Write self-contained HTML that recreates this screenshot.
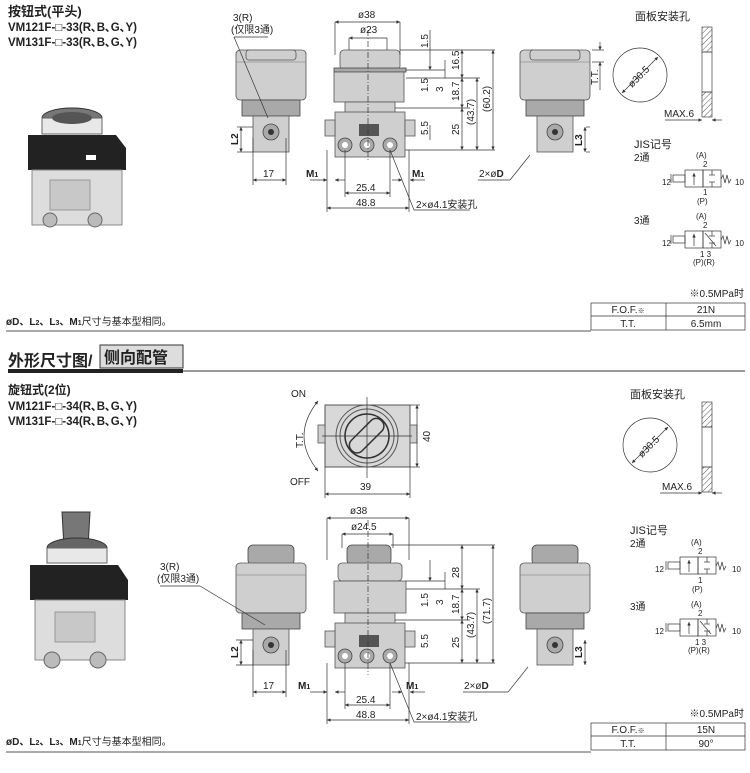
<!DOCTYPE html>
<html><head><meta charset="utf-8"><style>
body{margin:0;background:#fff;width:750px;height:773px;overflow:hidden}
svg{display:block}
text{font-family:"Liberation Sans","Noto Sans CJK SC",sans-serif;fill:#222}
.t{font-size:10px}
.b{font-weight:bold}
.d{stroke:#333;stroke-width:0.7;fill:none}
.g{fill:#cfcfcf;stroke:#555;stroke-width:0.8}
.g2{fill:#a9a9a9;stroke:#444;stroke-width:0.8}
</style></head><body>
<svg width="750" height="773" viewBox="0 0 750 773" xmlns="http://www.w3.org/2000/svg">
<defs>
<pattern id="h" width="4" height="4" patternUnits="userSpaceOnUse" patternTransform="rotate(45)"><line x1="0" y1="0" x2="0" y2="4" stroke="#555" stroke-width="1"/></pattern>
<marker id="a" viewBox="0 0 6 6" refX="6" refY="3" markerWidth="5" markerHeight="5" orient="auto-start-reverse"><path d="M0,0L6,3L0,6z" fill="#333"/></marker>
<g id="side">
<rect class="g" x="0" y="18" width="70" height="50" rx="4"/>
<line x1="0" y1="30" x2="70" y2="30" stroke="#777" stroke-width="0.6"/>
<rect class="g2" x="6" y="68" width="58" height="16"/>
<rect class="g" x="17" y="84" width="36" height="36"/>
<circle cx="35" cy="100" r="8" class="g2"/><circle cx="35" cy="100" r="3" fill="#333"/>
</g>
<g id="body">
<rect class="g" x="0" y="0" width="70" height="45"/>
<rect class="g" x="-10" y="8" width="10" height="16"/><rect class="g" x="70" y="8" width="10" height="16"/>
<rect x="24" y="12" width="20" height="12" fill="#555"/>
<circle cx="10" cy="33" r="7" class="g2"/><circle cx="32" cy="33" r="7" class="g2"/><circle cx="55" cy="33" r="7" class="g2"/>
<circle cx="10" cy="33" r="3" fill="#fff"/><circle cx="32" cy="33" r="3" fill="#fff"/><circle cx="55" cy="33" r="3" fill="#fff"/>
</g>
<g id="jis2">
<rect x="0" y="0" width="18" height="17" class="d"/><rect x="18" y="0" width="18" height="17" class="d"/>
<line x1="9" y1="15" x2="9" y2="3" class="d" marker-end="url(#a)"/>
<line x1="27" y1="0" x2="27" y2="5" class="d"/><line x1="24" y1="5" x2="30" y2="5" class="d"/>
<line x1="27" y1="17" x2="27" y2="12" class="d"/><line x1="24" y1="12" x2="30" y2="12" class="d"/>
<rect x="-12" y="5" width="12" height="7" class="d"/><line x1="-14" y1="4" x2="-14" y2="13" class="d"/>
<path d="M36,9 l2,-4 l2,8 l2,-8 l2,8 l2,-4" class="d"/>
</g>
</defs>

<!-- ===== TOP SECTION ===== -->
<text x="8" y="16" font-size="13" class="b">按钮式(平头)</text>
<text x="8" y="31" font-size="11.5" class="b">VM121F-□-33(R､B､G､Y)</text>
<text x="8" y="46" font-size="11.5" class="b">VM131F-□-33(R､B､G､Y)</text>

<!-- photo top -->
<ellipse cx="72" cy="118" rx="30" ry="10" fill="#777" stroke="#333"/>
<rect x="42" y="118" width="60" height="16" fill="#e8e8e8" stroke="#666"/>
<ellipse cx="72" cy="118" rx="20" ry="6" fill="#555"/>
<path d="M28 135 L116 135 L126 148 L126 170 L28 170 Z" fill="#222"/>
<rect x="86" y="155" width="10" height="5" fill="#fff"/>
<rect x="32" y="170" width="90" height="55" fill="#ddd" stroke="#888"/>
<rect x="50" y="180" width="40" height="30" fill="#c8c8c8" stroke="#999"/>
<circle cx="50" cy="220" r="7" fill="#bbb" stroke="#666"/><circle cx="95" cy="220" r="7" fill="#bbb" stroke="#666"/>

<!-- left side view -->
<use href="#side" x="236" y="32"/>
<rect class="g" x="246" y="50" width="50" height="10" rx="3"/>
<text x="233" y="21" class="t">3(R)</text>
<text x="231" y="33" class="t">(仅限3通)</text>
<line x1="234" y1="37" x2="268" y2="37" class="d"/><line x1="234" y1="37" x2="268" y2="118" class="d"/>
<line x1="253" y1="127" x2="237" y2="127" class="d"/><line x1="253" y1="152" x2="237" y2="152" class="d"/>
<line x1="241" y1="127" x2="241" y2="152" class="d" marker-start="url(#a)" marker-end="url(#a)"/>
<text x="0" y="0" class="t b" transform="translate(238,145) rotate(-90)">L2</text>
<line x1="253" y1="138" x2="253" y2="185" class="d"/><line x1="286" y1="138" x2="286" y2="185" class="d"/>
<line x1="253" y1="180" x2="286" y2="180" class="d" marker-start="url(#a)" marker-end="url(#a)"/>
<text x="263" y="177" class="t">17</text>

<!-- front view -->
<rect class="g" x="340" y="50" width="60" height="20" rx="4"/>
<rect class="g2" x="334" y="68" width="72" height="4"/>
<rect class="g" x="334" y="72" width="70" height="30"/>
<rect class="g" x="345" y="102" width="50" height="12"/>
<use href="#body" x="335" y="112"/>
<line x1="368" y1="30" x2="368" y2="162" class="d" stroke-dasharray="6,2,1,2"/>
<line x1="335" y1="22" x2="335" y2="55" class="d"/><line x1="400" y1="22" x2="400" y2="55" class="d"/>
<line x1="335" y1="22" x2="400" y2="22" class="d" marker-start="url(#a)" marker-end="url(#a)"/>
<text x="358" y="18" class="t">ø38</text>
<line x1="349" y1="38" x2="349" y2="50" class="d"/><line x1="387" y1="38" x2="387" y2="50" class="d"/>
<line x1="349" y1="38" x2="387" y2="38" class="d" marker-start="url(#a)"/>
<text x="360" y="33" class="t">ø23</text>
<g class="d">
<line x1="400" y1="50" x2="495" y2="50"/><line x1="406" y1="70" x2="445" y2="70"/><line x1="406" y1="78" x2="480" y2="78"/>
<line x1="395" y1="108" x2="470" y2="108"/><line x1="405" y1="150" x2="495" y2="150"/>
<line x1="430" y1="30" x2="430" y2="70" marker-end="url(#a)"/>
<line x1="445" y1="60" x2="445" y2="78"/>
<line x1="462" y1="50" x2="462" y2="78" marker-start="url(#a)" marker-end="url(#a)"/>
<line x1="462" y1="78" x2="462" y2="108" marker-start="url(#a)" marker-end="url(#a)"/>
<line x1="462" y1="108" x2="462" y2="150" marker-start="url(#a)" marker-end="url(#a)"/>
<line x1="477" y1="78" x2="477" y2="150" marker-start="url(#a)" marker-end="url(#a)"/>
<line x1="493" y1="50" x2="493" y2="150" marker-start="url(#a)" marker-end="url(#a)"/>
<line x1="430" y1="125" x2="430" y2="140"/>
</g>
<g class="t">
<text transform="translate(428,48) rotate(-90)">1.5</text>
<text transform="translate(428,92) rotate(-90)">1.5</text>
<text transform="translate(443,92) rotate(-90)">3</text>
<text transform="translate(459,70) rotate(-90)">16.5</text>
<text transform="translate(459,101) rotate(-90)">18.7</text>
<text transform="translate(459,135) rotate(-90)">25</text>
<text transform="translate(428,135) rotate(-90)">5.5</text>
<text transform="translate(474,125) rotate(-90)">(43.7)</text>
<text transform="translate(490,112) rotate(-90)">(60.2)</text>
</g>
<line x1="327" y1="150" x2="327" y2="212" class="d"/><line x1="409" y1="150" x2="409" y2="212" class="d"/>
<line x1="345" y1="150" x2="345" y2="197" class="d"/><line x1="390" y1="150" x2="390" y2="197" class="d"/>
<line x1="327" y1="208" x2="409" y2="208" class="d" marker-start="url(#a)" marker-end="url(#a)"/>
<line x1="345" y1="193" x2="390" y2="193" class="d" marker-start="url(#a)" marker-end="url(#a)"/>
<line x1="310" y1="180" x2="327" y2="180" class="d" marker-end="url(#a)"/><line x1="345" y1="180" x2="335" y2="180" class="d" marker-end="url(#a)"/>
<line x1="392" y1="180" x2="402" y2="180" class="d" marker-end="url(#a)"/><line x1="425" y1="180" x2="410" y2="180" class="d" marker-end="url(#a)"/>
<text x="356" y="191" class="t">25.4</text><text x="356" y="206" class="t">48.8</text>
<text x="306" y="177" class="t b">M<tspan font-size="7">1</tspan></text>
<text x="412" y="177" class="t b">M<tspan font-size="7">1</tspan></text>
<line x1="390" y1="150" x2="414" y2="210" class="d"/><line x1="414" y1="210" x2="470" y2="210" class="d"/>
<text x="416" y="208" class="t">2×ø4.1安装孔</text>
<line x1="478" y1="180" x2="510" y2="180" class="d"/><line x1="510" y1="180" x2="530" y2="155" class="d"/>
<text x="479" y="177" class="t">2×ø<tspan class="b">D</tspan></text>

<!-- right side view -->
<use href="#side" x="520" y="32"/>
<rect class="g" x="530" y="50" width="50" height="10" rx="3"/>
<g class="d"><line x1="592" y1="50" x2="604" y2="50"/><line x1="592" y1="62" x2="604" y2="62"/>
<line x1="600" y1="42" x2="600" y2="50" marker-end="url(#a)"/><line x1="600" y1="62" x2="600" y2="90" marker-start="url(#a)"/>
<line x1="586" y1="127" x2="590" y2="127"/><line x1="586" y1="152" x2="590" y2="152"/>
<line x1="585" y1="127" x2="585" y2="152" marker-start="url(#a)" marker-end="url(#a)"/></g>
<text transform="translate(598,85) rotate(-90)" class="t">T.T.</text>
<text transform="translate(582,146) rotate(-90)" class="t b">L3</text>

<!-- panel hole -->
<text x="635" y="20" font-size="11">面板安装孔</text>
<circle cx="640" cy="75" r="27" class="d"/>
<line x1="622" y1="93" x2="658" y2="57" class="d" marker-start="url(#a)" marker-end="url(#a)"/>
<text transform="translate(632,88) rotate(-45)" class="t">ø30.5</text>
<rect x="702" y="27" width="10" height="25" fill="url(#h)" stroke="#444" stroke-width="0.7"/>
<rect x="702" y="52" width="10" height="40" fill="none" stroke="#444" stroke-width="0.7"/>
<rect x="702" y="92" width="10" height="25" fill="url(#h)" stroke="#444" stroke-width="0.7"/>
<line x1="665" y1="120" x2="702" y2="120" class="d" marker-end="url(#a)"/><line x1="722" y1="120" x2="712" y2="120" class="d" marker-end="url(#a)"/>
<text x="664" y="117" class="t">MAX.6</text>
<text x="634" y="148" font-size="11">JIS记号</text>
<text x="634" y="161" class="t">2通</text>
<text x="696" y="158" font-size="8">(A)</text><text x="703" y="167" font-size="8">2</text>
<use href="#jis2" x="685" y="170"/>
<text x="662" y="185" font-size="8">12</text><text x="735" y="185" font-size="8">10</text>
<text x="703" y="195" font-size="8">1</text><text x="697" y="204" font-size="8">(P)</text>
<text x="634" y="224" class="t">3通</text>
<text x="696" y="219" font-size="8">(A)</text><text x="703" y="228" font-size="8">2</text>
<use href="#jis2" x="685" y="231"/>
<line x1="705" y1="233" x2="716" y2="246" class="d"/>
<text x="662" y="246" font-size="8">12</text><text x="735" y="246" font-size="8">10</text>
<text x="700" y="257" font-size="8">1 3</text><text x="693" y="265" font-size="8">(P)(R)</text>

<!-- table top -->
<text x="744" y="297" class="t" text-anchor="end">※0.5MPa时</text>
<rect x="591" y="303" width="154" height="27" class="d"/><line x1="591" y1="316" x2="745" y2="316" class="d"/><line x1="666" y1="303" x2="666" y2="330" class="d"/>
<text x="628" y="313" class="t" text-anchor="middle">F.O.F.<tspan font-size="7">※</tspan></text><text x="706" y="313" class="t" text-anchor="middle">21N</text>
<text x="628" y="327" class="t" text-anchor="middle">T.T.</text><text x="706" y="327" class="t" text-anchor="middle">6.5mm</text>
<text x="6" y="325" class="t"><tspan class="b">øD、L<tspan font-size="7">2</tspan>、L<tspan font-size="7">3</tspan>、M<tspan font-size="7">1</tspan></tspan>尺寸与基本型相同。</text>
<line x1="6" y1="331" x2="591" y2="331" stroke="#555" stroke-width="1"/>

<!-- section header -->
<text x="8" y="366" font-size="16" class="b">外形尺寸图/</text>
<rect x="100" y="345" width="83" height="23" fill="#ddd" stroke="#333" stroke-width="1"/>
<text x="104" y="363" font-size="16" class="b">侧向配管</text>
<rect x="8" y="369" width="175" height="4" fill="#222"/>
<rect x="183" y="370" width="562" height="2" fill="#999"/>

<!-- ===== BOTTOM SECTION ===== -->
<text x="8" y="394" font-size="12" class="b">旋钮式(2位)</text>
<text x="8" y="410" font-size="11.5" class="b">VM121F-□-34(R､B､G､Y)</text>
<text x="8" y="425" font-size="11.5" class="b">VM131F-□-34(R､B､G､Y)</text>

<!-- top view knob -->
<rect x="325" y="405" width="85" height="62" fill="#d8d8d8" stroke="#555"/>
<rect x="318" y="425" width="7" height="18" class="g"/><rect x="410" y="425" width="7" height="18" class="g"/>
<circle cx="367" cy="436" r="31" fill="none" stroke="#555"/><circle cx="367" cy="436" r="27" fill="none" stroke="#555"/><circle cx="367" cy="436" r="22" fill="none" stroke="#333" stroke-width="1.5"/>
<rect x="346" y="428" width="42" height="15" rx="7" transform="rotate(-45 367 436)" fill="none" stroke="#333" stroke-width="1.5"/>
<line x1="367" y1="397" x2="367" y2="478" class="d"/><line x1="322" y1="436" x2="412" y2="436" class="d"/>
<path d="M318 401 Q290 436 318 471" class="d" marker-start="url(#a)" marker-end="url(#a)"/>
<text x="291" y="397" class="t">ON</text><text x="290" y="485" class="t">OFF</text>
<text transform="translate(303,448) rotate(-90)" class="t">T.T.</text>
<line x1="410" y1="405" x2="420" y2="405" class="d"/><line x1="410" y1="467" x2="420" y2="467" class="d"/>
<line x1="417" y1="405" x2="417" y2="467" class="d" marker-start="url(#a)" marker-end="url(#a)"/>
<text transform="translate(430,442) rotate(-90)" class="t">40</text>
<line x1="325" y1="467" x2="325" y2="498" class="d"/><line x1="410" y1="467" x2="410" y2="498" class="d"/>
<line x1="325" y1="494" x2="410" y2="494" class="d" marker-start="url(#a)" marker-end="url(#a)"/>
<text x="360" y="490" class="t">39</text>

<!-- photo bottom -->
<path d="M62 512 L90 512 L88 548 L64 548 Z" fill="#777" stroke="#333"/>
<ellipse cx="77" cy="548" rx="30" ry="10" fill="#666" stroke="#333"/>
<rect x="47" y="548" width="60" height="15" fill="#e8e8e8" stroke="#666"/>
<path d="M30 565 L118 565 L128 580 L128 600 L30 600 Z" fill="#222"/>
<rect x="35" y="600" width="90" height="60" fill="#ddd" stroke="#888"/>
<rect x="55" y="612" width="40" height="30" fill="#c8c8c8" stroke="#999"/>
<circle cx="52" cy="660" r="8" fill="#bbb" stroke="#666"/><circle cx="98" cy="660" r="8" fill="#bbb" stroke="#666"/>

<!-- left side bottom -->
<rect class="g2" x="248" y="545" width="46" height="20" rx="5"/>
<use href="#side" x="236" y="545"/>
<text x="160" y="570" class="t">3(R)</text><text x="157" y="582" class="t">(仅限3通)</text>
<line x1="160" y1="586" x2="200" y2="586" class="d"/><line x1="200" y1="586" x2="265" y2="625" class="d"/>
<line x1="241" y1="640" x2="241" y2="665" class="d" marker-start="url(#a)" marker-end="url(#a)"/>
<line x1="236" y1="640" x2="253" y2="640" class="d"/><line x1="236" y1="665" x2="253" y2="665" class="d"/>
<text transform="translate(238,658) rotate(-90)" class="t b">L2</text>
<line x1="253" y1="650" x2="253" y2="697" class="d"/><line x1="286" y1="650" x2="286" y2="697" class="d"/>
<line x1="253" y1="692" x2="286" y2="692" class="d" marker-start="url(#a)" marker-end="url(#a)"/>
<text x="263" y="689" class="t">17</text>

<!-- front bottom -->
<rect class="g2" x="347" y="545" width="44" height="20" rx="5"/>
<rect class="g" x="338" y="563" width="64" height="18" rx="4"/>
<rect class="g" x="334" y="581" width="72" height="32"/>
<rect class="g" x="345" y="613" width="50" height="12"/>
<use href="#body" x="335" y="623"/>
<line x1="368" y1="520" x2="368" y2="675" class="d" stroke-dasharray="6,2,1,2"/>
<line x1="327" y1="518" x2="327" y2="560" class="d"/><line x1="409" y1="518" x2="409" y2="560" class="d"/>
<line x1="327" y1="518" x2="409" y2="518" class="d" marker-start="url(#a)" marker-end="url(#a)"/>
<text x="350" y="514" class="t">ø38</text>
<line x1="342" y1="534" x2="342" y2="548" class="d"/><line x1="393" y1="534" x2="393" y2="548" class="d"/>
<line x1="342" y1="534" x2="393" y2="534" class="d" marker-start="url(#a)" marker-end="url(#a)"/>
<text x="351" y="530" class="t">ø24.5</text>
<g class="d">
<line x1="391" y1="545" x2="495" y2="545"/><line x1="406" y1="581" x2="445" y2="581"/><line x1="406" y1="589" x2="480" y2="589"/>
<line x1="395" y1="620" x2="470" y2="620"/><line x1="405" y1="663" x2="495" y2="663"/>
<line x1="430" y1="560" x2="430" y2="581" marker-end="url(#a)"/>
<line x1="445" y1="572" x2="445" y2="589"/>
<line x1="462" y1="545" x2="462" y2="589" marker-start="url(#a)" marker-end="url(#a)"/>
<line x1="462" y1="589" x2="462" y2="620" marker-start="url(#a)" marker-end="url(#a)"/>
<line x1="462" y1="620" x2="462" y2="663" marker-start="url(#a)" marker-end="url(#a)"/>
<line x1="477" y1="589" x2="477" y2="663" marker-start="url(#a)" marker-end="url(#a)"/>
<line x1="493" y1="545" x2="493" y2="663" marker-start="url(#a)" marker-end="url(#a)"/>
</g>
<g class="t">
<text transform="translate(459,578) rotate(-90)">28</text>
<text transform="translate(428,607) rotate(-90)">1.5</text>
<text transform="translate(443,605) rotate(-90)">3</text>
<text transform="translate(459,614) rotate(-90)">18.7</text>
<text transform="translate(459,648) rotate(-90)">25</text>
<text transform="translate(428,648) rotate(-90)">5.5</text>
<text transform="translate(474,638) rotate(-90)">(43.7)</text>
<text transform="translate(490,624) rotate(-90)">(71.7)</text>
</g>
<line x1="327" y1="663" x2="327" y2="724" class="d"/><line x1="409" y1="663" x2="409" y2="724" class="d"/>
<line x1="345" y1="663" x2="345" y2="709" class="d"/><line x1="390" y1="663" x2="390" y2="709" class="d"/>
<line x1="327" y1="720" x2="409" y2="720" class="d" marker-start="url(#a)" marker-end="url(#a)"/>
<line x1="345" y1="705" x2="390" y2="705" class="d" marker-start="url(#a)" marker-end="url(#a)"/>
<line x1="310" y1="692" x2="327" y2="692" class="d" marker-end="url(#a)"/><line x1="345" y1="692" x2="335" y2="692" class="d" marker-end="url(#a)"/>
<line x1="392" y1="692" x2="402" y2="692" class="d" marker-end="url(#a)"/><line x1="425" y1="692" x2="410" y2="692" class="d" marker-end="url(#a)"/>
<text x="356" y="703" class="t">25.4</text><text x="356" y="718" class="t">48.8</text>
<text x="298" y="689" class="t b">M<tspan font-size="7">1</tspan></text>
<text x="406" y="689" class="t b">M<tspan font-size="7">1</tspan></text>
<line x1="390" y1="663" x2="414" y2="722" class="d"/><line x1="414" y1="722" x2="470" y2="722" class="d"/>
<text x="416" y="720" class="t">2×ø4.1安装孔</text>
<line x1="463" y1="692" x2="508" y2="692" class="d"/><line x1="508" y1="692" x2="528" y2="667" class="d"/>
<text x="464" y="689" class="t">2×ø<tspan class="b">D</tspan></text>

<!-- right side bottom -->
<rect class="g2" x="532" y="545" width="46" height="20" rx="5"/>
<use href="#side" x="520" y="545"/>
<line x1="585" y1="640" x2="585" y2="665" class="d" marker-start="url(#a)" marker-end="url(#a)"/>
<text transform="translate(582,658) rotate(-90)" class="t b">L3</text>

<!-- panel bottom -->
<text x="630" y="398" font-size="11">面板安装孔</text>
<circle cx="650" cy="445" r="27" class="d"/>
<line x1="632" y1="463" x2="668" y2="427" class="d" marker-start="url(#a)" marker-end="url(#a)"/>
<text transform="translate(642,458) rotate(-45)" class="t">ø30.5</text>
<rect x="702" y="402" width="10" height="25" fill="url(#h)" stroke="#444" stroke-width="0.7"/>
<rect x="702" y="427" width="10" height="40" fill="none" stroke="#444" stroke-width="0.7"/>
<rect x="702" y="467" width="10" height="25" fill="url(#h)" stroke="#444" stroke-width="0.7"/>
<line x1="660" y1="493" x2="702" y2="493" class="d" marker-end="url(#a)"/><line x1="722" y1="493" x2="712" y2="493" class="d" marker-end="url(#a)"/>
<text x="662" y="490" class="t">MAX.6</text>
<text x="630" y="534" font-size="11">JIS记号</text>
<text x="630" y="547" class="t">2通</text>
<text x="691" y="545" font-size="8">(A)</text><text x="698" y="554" font-size="8">2</text>
<use href="#jis2" x="680" y="557"/>
<text x="655" y="572" font-size="8">12</text><text x="732" y="572" font-size="8">10</text>
<text x="698" y="583" font-size="8">1</text><text x="692" y="592" font-size="8">(P)</text>
<text x="630" y="610" class="t">3通</text>
<text x="691" y="607" font-size="8">(A)</text><text x="698" y="616" font-size="8">2</text>
<use href="#jis2" x="680" y="619"/>
<line x1="700" y1="621" x2="711" y2="634" class="d"/>
<text x="655" y="634" font-size="8">12</text><text x="732" y="634" font-size="8">10</text>
<text x="695" y="645" font-size="8">1 3</text><text x="688" y="653" font-size="8">(P)(R)</text>

<!-- table bottom -->
<text x="744" y="717" class="t" text-anchor="end">※0.5MPa时</text>
<rect x="591" y="723" width="154" height="27" class="d"/><line x1="591" y1="736" x2="745" y2="736" class="d"/><line x1="666" y1="723" x2="666" y2="750" class="d"/>
<text x="628" y="733" class="t" text-anchor="middle">F.O.F.<tspan font-size="7">※</tspan></text><text x="706" y="733" class="t" text-anchor="middle">15N</text>
<text x="628" y="747" class="t" text-anchor="middle">T.T.</text><text x="706" y="747" class="t" text-anchor="middle">90°</text>
<text x="6" y="745" class="t"><tspan class="b">øD、L<tspan font-size="7">2</tspan>、L<tspan font-size="7">3</tspan>、M<tspan font-size="7">1</tspan></tspan>尺寸与基本型相同。</text>
<line x1="6" y1="752" x2="591" y2="752" stroke="#555" stroke-width="1"/>
</svg>
</body></html>
